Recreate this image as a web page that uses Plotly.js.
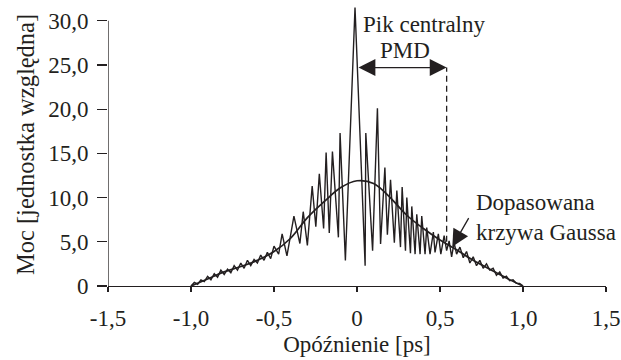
<!DOCTYPE html>
<html>
<head>
<meta charset="utf-8">
<script src="https://cdn.plot.ly/plotly-3.0.1.min.js"></script>
<style>html,body{margin:0;padding:0;background:#fff;}#chart{width:621px;height:360px;}</style>
</head>
<body>
<div id="chart"></div>
<script>
// Measured interferogram (delay in ps, relative power)
const signalX = [
  -1.00,-0.98,-0.96,-0.94,-0.92,-0.90,-0.88,-0.86,-0.84,-0.82,-0.80,-0.78,-0.76,-0.74,-0.72,-0.70,
  -0.68,-0.66,-0.64,-0.62,-0.60,-0.58,-0.56,-0.54,-0.52,-0.50,
  -0.472,-0.451,-0.422,-0.380,-0.344,-0.324,-0.299,-0.270,-0.248,-0.227,-0.201,-0.186,-0.167,-0.148,
  -0.112,-0.102,-0.070,-0.012,
  0.049,0.053,0.094,0.123,0.142,0.168,0.183,0.202,0.225,0.240,0.262,0.272,0.292,0.300,0.322,0.330,
  0.350,0.360,0.380,0.390,0.410,0.420,0.440,0.460,0.470,0.490,0.505,0.525,0.540,0.555,0.570,0.585,0.600,
  0.62,0.64,0.66,0.68,0.70,0.72,0.74,0.76,0.78,0.80,0.82,0.84,0.86,0.88,0.90,0.92,0.94,0.96,0.98,1.00
];
const signalY = [
  0,0.4,0.2,0.7,0.5,1.1,0.7,1.4,1.0,1.8,1.3,1.9,1.5,2.3,1.8,2.6,
  2.0,2.9,2.3,3.0,2.6,3.5,2.9,3.8,3.1,4.5,
  3.6,5.9,3.4,7.9,4.8,8.4,4.6,11.3,6.7,12.7,6.5,15.1,6.0,15.2,
  5.5,17.3,2.9,31.5,
  2.3,17.3,4.0,20.1,4.75,13.4,5.8,12.0,4.9,10.8,4.4,11.2,4.0,10.0,3.7,9.0,
  3.6,8.1,3.6,7.9,3.6,6.6,3.6,6.1,3.8,5.9,3.6,5.7,4.0,5.1,3.3,4.9,3.6,
  4.4,3.2,3.9,2.6,3.3,2.3,2.9,2.0,2.5,1.8,2.0,1.2,1.6,0.9,1.1,0.6,0.7,0.3,0.3,0
];
// Fitted Gaussian curve
const gaussX = [-1.0,-0.9,-0.8,-0.7,-0.6,-0.5,-0.4,-0.3,-0.2,-0.1,0.0,0.1,0.2,0.3,0.4,0.5,0.6,0.7,0.8,0.9,1.0];
const gaussY = [0,0.8,1.6,2.2,2.9,3.9,5.4,7.7,9.5,11.1,11.9,11.6,10.0,8.0,6.5,5.2,4.1,2.9,1.9,0.9,0];

const xTickVals = [-1.5,-1.0,-0.5,0,0.5,1.0,1.5];
const xTickText = ['-1,5','-1,0','-0,5','0','0,5','1,0','1,5'];
const yTickVals = [0,5,10,15,20,25,30];
const yTickText = ['0','5,0','10,0','15,0','20,0','25,0','30,0'];

const pmdStart = 0.0, pmdEnd = 0.54, pmdLevel = 24.7, pmdFoot = 5.0;

const ink = '#231f20';
const family = 'Liberation Serif, Times New Roman, serif';
const font = {family: family, size: 23, color: ink};
const yTitleFont = {family: family, size: 24.5, color: ink};

const traces = [
  {x: signalX, y: signalY, type: 'scatter', mode: 'lines',
   line: {color: ink, width: 1.4}, hoverinfo: 'skip', showlegend: false},
  {x: gaussX, y: gaussY, type: 'scatter', mode: 'lines',
   line: {color: ink, width: 1.7, shape: 'spline', smoothing: 1}, hoverinfo: 'skip', showlegend: false}
];

const layout = {
  width: 621, height: 360,
  margin: {l: 108, r: 15, t: 3, b: 74},
  paper_bgcolor: '#fff', plot_bgcolor: '#fff',
  font: font,
  showlegend: false,
  xaxis: {
    range: [-1.5, 1.5], tickvals: xTickVals, ticktext: xTickText,
    showgrid: false, zeroline: false, showline: true, linecolor: ink, linewidth: 1.3,
    ticks: 'outside', ticklen: 5, tickwidth: 1.2, tickcolor: ink, ticklabelstandoff: 6,
    tickfont: font,
    title: {text: 'Opóźnienie [ps]', font: font, standoff: 6}
  },
  yaxis: {
    range: [0, 32], tickvals: yTickVals, ticktext: yTickText,
    showgrid: false, zeroline: false, showline: false,
    ticks: 'outside', ticklen: 10, tickwidth: 1.2, tickcolor: ink, ticklabelstandoff: 4,
    tickfont: font,
    title: {text: 'Moc [jednostka względna]', font: yTitleFont, standoff: 6}
  },
  shapes: [
    {type: 'line', xref: 'x', yref: 'y', x0: -1.5, x1: -1.5, y0: 0, y1: 30,
     line: {color: ink, width: 1.3}},
    {type: 'line', xref: 'x', yref: 'y', x0: pmdEnd, x1: pmdEnd, y0: pmdFoot, y1: pmdLevel,
     line: {color: ink, width: 1.3, dash: '6px,4px'}}
  ],
  annotations: [
    {x: pmdEnd, y: pmdLevel, ax: pmdStart, ay: pmdLevel, xref: 'x', yref: 'y', axref: 'x', ayref: 'y',
     text: '', showarrow: true, arrowside: 'end+start', arrowhead: 2, startarrowhead: 2,
     arrowsize: 2.6, startarrowsize: 2.6, arrowwidth: 1.3, arrowcolor: ink, standoff: 0, startstandoff: 0},
    {x: 0.29, y: 26.6, xref: 'x', yref: 'y', text: 'PMD', showarrow: false,
     xanchor: 'center', yanchor: 'middle', font: font},
    {x: 0.024, y: 29.6, xref: 'x', yref: 'y', text: 'Pik centralny', showarrow: false,
     xanchor: 'left', yanchor: 'middle', font: font},
    {x: 0.574, y: 4.45, ax: 0.678, ay: 7.84, xref: 'x', yref: 'y', axref: 'x', ayref: 'y',
     text: '', showarrow: true, arrowhead: 2, arrowsize: 2.6, arrowwidth: 1.3, arrowcolor: ink, standoff: 0},
    {x: 0.706, y: 7.7, xref: 'x', yref: 'y', text: 'Dopasowana<br>krzywa Gaussa', showarrow: false,
     xanchor: 'left', yanchor: 'middle', align: 'left', font: font}
  ]
};

Plotly.newPlot('chart', traces, layout, {staticPlot: true, displayModeBar: false});
</script>
</body>
</html>
